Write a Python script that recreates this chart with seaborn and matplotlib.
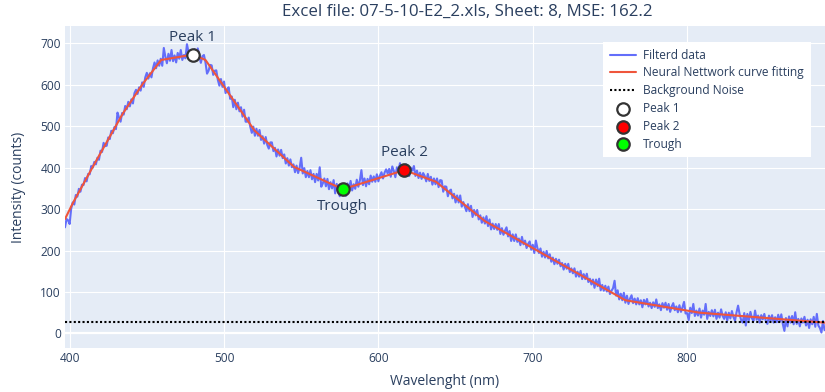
import numpy as np
import pandas as pd
import matplotlib
matplotlib.use("Agg")
import matplotlib.pyplot as plt
import seaborn as sns

TITLE = "Excel file: 07-5-10-E2_2.xls, Sheet: 8, MSE: 162.2"
X_LABEL = "Wavelenght (nm)"
Y_LABEL = "Intensity (counts)"

# Filtered spectrum: one sample per nm, starting at 397 nm
wl_start = 397
counts = [
    256, 276, 273, 264, 301, 316, 311, 334, 330, 349,   # 397
    342, 359, 358, 375, 367, 385, 384, 404, 400, 414,   # 407
    408, 424, 419, 441, 438, 460, 452, 453, 473, 469,   # 417
    489, 483, 498, 493, 533, 521, 511, 532, 528, 549,   # 427
    541, 559, 548, 565, 555, 580, 588, 578, 594, 586,   # 437
    606, 595, 618, 629, 615, 628, 618, 640, 654, 640,   # 447
    659, 646, 663, 646, 689, 668, 652, 675, 658, 684,   # 457
    657, 671, 654, 677, 663, 684, 660, 672, 664, 698,   # 467
    679, 662, 684, 669, 686, 662, 688, 671, 653, 669,   # 477
    672, 654, 627, 634, 648, 647, 624, 634, 635, 612,   # 487
    598, 614, 595, 608, 580, 589, 594, 566, 572, 546,   # 497
    564, 541, 557, 536, 546, 523, 540, 511, 511, 521,   # 507
    499, 484, 499, 477, 494, 477, 491, 467, 476, 458,   # 517
    474, 455, 446, 461, 461, 440, 448, 427, 444, 429,   # 527
    443, 423, 432, 410, 423, 405, 420, 401, 408, 389,   # 537
    405, 387, 400, 424, 386, 399, 377, 392, 377, 394,   # 547
    372, 385, 365, 385, 369, 401, 354, 362, 374, 355,   # 557
    373, 348, 365, 350, 370, 338, 361, 341, 331, 355,   # 567
    333, 355, 332, 362, 347, 368, 345, 360, 349, 371,   # 577
    354, 369, 394, 358, 374, 355, 373, 360, 381, 366,   # 587
    379, 366, 384, 367, 381, 389, 374, 388, 396, 386,   # 597
    397, 378, 403, 392, 377, 401, 394, 411, 386, 403,   # 607
    386, 408, 395, 380, 400, 393, 404, 380, 393, 375,   # 617
    388, 373, 387, 380, 367, 385, 368, 378, 359, 374,   # 627
    360, 374, 353, 370, 369, 342, 355, 354, 331, 344,   # 637
    347, 326, 337, 316, 333, 316, 333, 306, 317, 306,   # 647
    295, 312, 295, 308, 281, 298, 285, 298, 275, 285,   # 657
    267, 280, 265, 283, 259, 275, 251, 265, 252, 264,   # 667
    250, 264, 240, 254, 238, 248, 256, 234, 247, 223,   # 677
    239, 223, 239, 221, 229, 213, 233, 215, 224, 206,   # 687
    216, 222, 202, 214, 194, 224, 206, 194, 205, 185,   # 697
    197, 183, 199, 181, 191, 173, 183, 167, 180, 168,   # 707
    178, 162, 170, 154, 168, 156, 168, 148, 157, 145,   # 717
    157, 137, 149, 137, 151, 131, 143, 131, 144, 124,   # 727
    132, 118, 130, 110, 130, 114, 132, 104, 117, 103,   # 737
    115, 101, 113, 95, 103, 109, 127, 91, 104, 82,      # 747
    96, 80, 98, 74, 91, 71, 84, 92, 73, 84,             # 757
    70, 85, 70, 80, 63, 81, 70, 83, 65, 74,             # 767
    61, 75, 64, 82, 61, 70, 56, 73, 62, 74,             # 777
    57, 71, 52, 65, 73, 56, 65, 51, 68, 52,             # 787
    63, 76, 48, 49, 32, 62, 49, 71, 42, 55,             # 797
    43, 60, 38, 55, 45, 71, 35, 52, 42, 56,             # 807
    41, 57, 35, 50, 38, 58, 42, 35, 51, 31,             # 817
    50, 36, 54, 39, 31, 51, 67, 46, 32, 26,             # 827
    49, 19, 47, 32, 52, 36, 30, 55, 33, 43,             # 837
    26, 44, 34, 47, 29, 23, 43, 30, 44, 26,             # 847
    39, 27, 45, 28, 46, 22, 6, 37, 17, 41,              # 857
    26, 42, 22, 51, 23, 35, 17, 36, 26, 40,             # 867
    19, 33, 13, 34, 22, 40, 16, 47, 19, 13,             # 877
    2, 30, 8,                                           # 887
]

# Neural network fit (piecewise linear, ReLU knots)
fit_nm = [397, 402, 415, 434.5, 447.5, 459.3, 479.8, 488, 519.7, 545.3,
          576.9, 616.8, 637.3, 669, 760, 808, 889]
fit_counts = [276, 314, 402, 531, 603, 660, 673, 660, 490, 402,
              348, 394, 366, 271, 80, 50, 26]

# Background noise level
noise_level = 28

# Detected features on the fitted curve
feature_names = ["Peak 1", "Peak 2", "Trough"]
feature_nm = [479.8, 616.8, 576.9]
feature_counts = [673, 394, 348]

x_ticks = [400, 500, 600, 700, 800]
y_ticks = [0, 100, 200, 300, 400, 500, 600, 700]

# ---- styling ----
TEXT = "#2a3f5f"
BG = "#E5ECF6"
feature_fill = {"Peak 1": "white", "Peak 2": "#ff0000", "Trough": "#00ff00"}
feature_text_side = {"Peak 1": "top", "Peak 2": "top", "Trough": "bottom"}

sns.set_theme(style="darkgrid", rc={
    "axes.facecolor": BG,
    "grid.color": "white",
    "grid.linewidth": 0.8,
    "axes.edgecolor": BG,
})
plt.rcParams["font.family"] = ["Open Sans", "DejaVu Sans"]

W, H = 825, 392
fig = plt.figure(figsize=(W / 100, H / 100), dpi=100)
left, right, top, bottom = 65, 825, 26, 348.3
ax = fig.add_axes([left / W, 1 - bottom / H, (right - left) / W, (bottom - top) / H])
for s in ax.spines.values():
    s.set_visible(False)

spec = pd.DataFrame({"nm": wl_start + np.arange(len(counts)), "counts": counts})
fit = pd.DataFrame({"nm": fit_nm, "counts": fit_counts})

ax.axhline(0, color="white", lw=1.6, zorder=1)

sns.lineplot(data=spec, x="nm", y="counts", ax=ax, color="#636EFA", lw=1.5,
             label="Filterd data", zorder=2)
sns.lineplot(data=fit, x="nm", y="counts", ax=ax, color="#EF553B", lw=1.5,
             label="Neural Nettwork curve fitting", zorder=3)
ax.axhline(noise_level, color="black", lw=1.5, ls=(0, (1, 1.1)),
           label="Background Noise", zorder=4)

for name, xv, yv in zip(feature_names, feature_nm, feature_counts):
    sns.scatterplot(x=[xv], y=[yv], ax=ax, s=80, color=feature_fill[name],
                    edgecolor="#333333", linewidth=1.6, label=name, zorder=6)
    dy = 12.5 if feature_text_side[name] == "top" else -12.5
    ax.annotate(name, (xv, yv), xytext=(0, dy), textcoords="offset points",
                ha="center", va="center", fontsize=11, color=TEXT, zorder=7)

ax.set_xlim(397, 889.3)
ax.set_ylim(-36, 742)
ax.set_xticks(x_ticks)
ax.set_yticks(y_ticks)
ax.tick_params(length=0, pad=3, labelsize=8.6, labelcolor=TEXT)
ax.set_xlabel(X_LABEL, fontsize=10, color=TEXT, labelpad=6)
ax.set_ylabel(Y_LABEL, fontsize=10, color=TEXT, labelpad=10)

leg = ax.legend(loc="upper right", bbox_to_anchor=(0.981, 0.95), frameon=True,
                facecolor="white", edgecolor="white", framealpha=1,
                fancybox=False, fontsize=8.6, labelcolor=TEXT,
                handlelength=2.2, handletextpad=0.6, labelspacing=0.4,
                borderpad=0.55, borderaxespad=0)
leg.get_frame().set_linewidth(0)

fig.text(467 / W, 1 - 12 / H, TITLE, ha="center", va="center",
         fontsize=12.2, color=TEXT)

fig.savefig("out.png", dpi=100)
